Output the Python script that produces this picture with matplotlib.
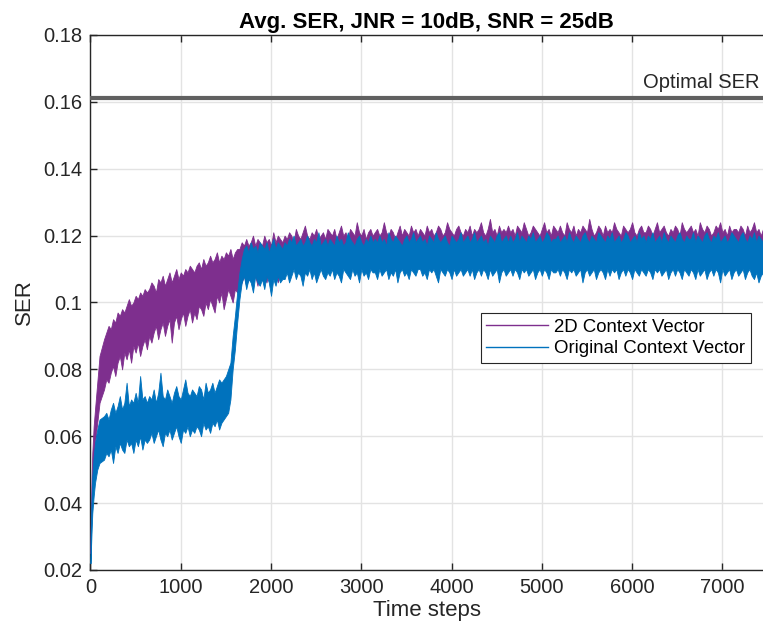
import matplotlib.pyplot as plt
from matplotlib.lines import Line2D
from matplotlib.ticker import FuncFormatter

# Time axis: a few early samples, then every 25 steps
time_steps = [0, 10, 20, 35, 50, 75, 100] + list(range(150, 7451, 25))

# SER traces, in units of 0.001 (low / high edge of the noisy band)
ctx2d_hi = [30, 45, 55, 63, 68, 76, 84,
            89, 91, 93, 92, 95, 94, 97, 96, 98, 97, 99, 101, 99, 100, 102, 101, 103, 102, 104, 103,
            104, 106, 105, 103, 107, 106, 108, 105, 107, 109, 106, 108, 110, 107, 109, 108, 110, 109, 111, 110,
            109, 111, 112, 110, 113, 111, 112, 114, 112, 113, 115, 112, 114, 113, 115, 114, 116, 113, 115, 116,
            116, 118, 117, 119, 117, 118, 120, 117, 119, 118, 117, 120, 118, 119, 117, 121, 118, 120, 119, 118,
            120, 119, 121, 120, 118, 122, 120, 119, 121, 123, 120, 119, 121, 120, 122, 119, 120, 121, 119, 122,
            121, 120, 122, 119, 121, 123, 120, 121, 119, 122, 121, 120, 124, 121, 120, 122, 119, 121, 122, 120,
            121, 122, 120, 121, 124, 121, 120, 122, 121, 119, 121, 123, 120, 122, 121, 120, 123, 121, 122, 120,
            122, 121, 120, 123, 121, 122, 120, 121, 123, 122, 120, 121, 124, 122, 121, 120, 122, 123, 121, 120,
            122, 121, 123, 120, 122, 121, 122, 124, 121, 120, 122, 125, 121, 122, 120, 123, 121, 122, 121, 123,
            121, 122, 120, 123, 122, 121, 124, 122, 120, 121, 123, 122, 121, 120, 122, 124, 121, 122, 120, 123,
            122, 121, 123, 121, 120, 124, 122, 121, 123, 120, 122, 121, 123, 122, 121, 125, 122, 120, 121, 123,
            122, 120, 123, 121, 122, 121, 124, 122, 121, 120, 123, 122, 121, 122, 124, 121, 120, 122, 123, 121,
            121, 123, 122, 120, 122, 124, 121, 122, 123, 121, 120, 122, 121, 123, 122, 120, 124, 122, 121, 122,
            123, 121, 122, 120, 124, 122, 121, 123, 122, 120, 121, 123, 122, 124, 121, 122, 120, 123, 121, 122,
            122, 121, 123, 122, 120, 123, 121, 122, 124, 121, 122, 120, 122]
ctx2d_lo = [25, 36, 44, 52, 58, 64, 70,
            74, 77, 76, 79, 81, 78, 82, 84, 80, 85, 83, 86, 82, 87, 85, 88, 84, 87, 89, 86,
            90, 88, 91, 93, 89, 92, 94, 90, 93, 95, 88, 94, 96, 92, 95, 97, 93, 96, 98, 94,
            97, 95, 99, 98, 96, 100, 98, 101, 99, 97, 102, 100, 103, 98, 101, 104, 102, 100, 104, 103,
            104, 106, 108, 105, 107, 109, 106, 108, 105, 109, 107, 108, 106, 110, 108, 107, 109, 106, 110, 108,
            109, 111, 108, 110, 112, 109, 111, 110, 108, 111, 110, 112, 109, 111, 108, 110, 112, 110, 109, 111,
            110, 112, 109, 111, 110, 108, 112, 111, 110, 109, 112, 110, 111, 108, 112, 110, 111, 109, 112, 111,
            111, 109, 112, 110, 111, 112, 109, 111, 110, 112, 108, 111, 112, 110, 111, 109, 112, 111, 110, 112,
            112, 110, 111, 109, 112, 111, 112, 110, 108, 112, 111, 110, 112, 111, 109, 112, 110, 111, 112, 110,
            111, 112, 110, 112, 109, 111, 112, 110, 112, 111, 109, 112, 110, 111, 112, 108, 111, 112, 110, 111,
            112, 110, 112, 111, 109, 112, 111, 112, 110, 111, 112, 109, 111, 112, 110, 112, 111, 109, 112, 111,
            111, 112, 110, 112, 111, 109, 112, 111, 112, 110, 111, 112, 108, 111, 112, 110, 111, 112, 109, 111,
            112, 111, 109, 112, 110, 112, 111, 112, 109, 111, 112, 110, 112, 111, 109, 112, 111, 110, 112, 111,
            110, 112, 111, 109, 112, 111, 112, 110, 111, 112, 109, 111, 112, 110, 112, 111, 109, 112, 111, 110,
            112, 111, 109, 112, 110, 111, 112, 109, 111, 112, 110, 112, 111, 108, 112, 110, 111, 112, 109, 111,
            112, 110, 111, 112, 109, 111, 112, 110, 109, 111, 108, 110, 111]

orig_hi = [28, 40, 48, 54, 58, 62, 65,
           66, 67, 65, 68, 70, 67, 69, 72, 68, 70, 76, 69, 71, 70, 73, 70, 78, 71, 72, 70,
           72, 71, 74, 70, 73, 79, 72, 71, 74, 72, 70, 73, 75, 72, 71, 74, 77, 73, 72, 74,
           73, 72, 75, 74, 71, 76, 73, 74, 76, 73, 75, 77, 76, 77, 78, 80, 82, 90, 96, 103,
           109, 113, 116, 117, 115, 118, 116, 117, 115, 118, 117, 116, 118, 115, 117, 119, 116, 118, 117, 116,
           118, 117, 119, 118, 120, 117, 118, 119, 117, 118, 120, 118, 117, 119, 118, 121, 117, 118, 119, 117,
           119, 118, 117, 120, 118, 119, 117, 118, 121, 119, 118, 117, 119, 120, 118, 117, 119, 118, 120, 118,
           119, 118, 120, 118, 119, 117, 121, 119, 118, 120, 119, 118, 117, 119, 120, 118, 119, 121, 118, 119,
           120, 118, 119, 117, 120, 119, 118, 121, 119, 118, 119, 120, 118, 117, 120, 119, 118, 119, 121, 118,
           119, 120, 118, 119, 121, 118, 119, 120, 118, 119, 117, 120, 119, 118, 120, 121, 118, 119, 120, 118,
           120, 118, 119, 121, 118, 120, 119, 118, 120, 119, 121, 118, 119, 120, 118, 119, 121, 120, 118, 119,
           119, 120, 118, 119, 120, 118, 121, 119, 118, 120, 119, 118, 120, 121, 119, 118, 120, 119, 118, 121,
           120, 119, 118, 120, 119, 121, 118, 119, 120, 118, 119, 121, 120, 118, 119, 120, 118, 121, 119, 120,
           118, 120, 119, 121, 118, 119, 120, 118, 121, 119, 118, 120, 119, 118, 120, 121, 119, 118, 120, 119,
           119, 121, 118, 120, 119, 118, 120, 121, 119, 118, 120, 119, 121, 118, 119, 120, 118, 119, 121, 120,
           119, 118, 120, 121, 119, 118, 120, 119, 121, 118, 120, 119, 118]
orig_lo = [22, 30, 37, 42, 46, 50, 52,
           53, 55, 54, 56, 52, 57, 55, 58, 56, 55, 59, 57, 58, 55, 59, 57, 60, 56, 59, 58,
           59, 61, 58, 60, 62, 59, 57, 61, 60, 62, 59, 61, 63, 60, 58, 62, 61, 63, 60, 62,
           61, 63, 62, 60, 64, 62, 63, 61, 64, 63, 65, 62, 64, 65, 66, 67, 71, 80, 86, 94,
           101, 106, 108, 104, 107, 106, 103, 108, 106, 105, 107, 104, 108, 106, 102, 107, 105, 108, 106, 107,
           107, 109, 106, 108, 110, 107, 109, 108, 105, 109, 108, 110, 107, 109, 106, 108, 110, 108, 107, 109,
           108, 110, 107, 109, 108, 106, 110, 109, 108, 107, 110, 108, 109, 106, 110, 108, 109, 107, 110, 109,
           109, 107, 110, 108, 109, 110, 107, 109, 108, 110, 106, 109, 110, 108, 109, 107, 110, 109, 108, 110,
           110, 108, 109, 107, 110, 109, 110, 108, 106, 110, 109, 108, 110, 109, 107, 110, 108, 109, 110, 108,
           109, 110, 108, 110, 107, 109, 110, 108, 110, 109, 107, 110, 108, 109, 110, 106, 109, 110, 108, 109,
           110, 108, 110, 109, 107, 110, 109, 110, 108, 109, 110, 107, 109, 110, 108, 110, 109, 107, 110, 109,
           109, 110, 108, 110, 109, 107, 110, 109, 110, 108, 109, 110, 106, 109, 110, 108, 109, 110, 107, 109,
           110, 109, 107, 110, 108, 110, 109, 110, 107, 109, 110, 108, 110, 109, 107, 110, 109, 108, 110, 109,
           108, 110, 109, 107, 110, 109, 110, 108, 109, 110, 107, 109, 110, 108, 110, 109, 107, 110, 109, 108,
           110, 109, 107, 110, 108, 109, 110, 107, 109, 110, 108, 110, 109, 106, 110, 108, 109, 110, 107, 109,
           110, 108, 109, 110, 107, 109, 110, 108, 107, 109, 106, 108, 109]

optimal_ser = 0.1613

labels = ["2D Context Vector", "Original Context Vector"]
purple = "#7E2F8E"
blue = "#0072BD"
ink = "#262626"

plt.rcParams["font.family"] = ["Liberation Sans", "DejaVu Sans"]

fig = plt.figure(figsize=(7.63, 6.37), dpi=100)
ax = fig.add_axes([0.1186, 0.1052, 0.8814, 0.8399])

# Noisy SER traces drawn as bands between low and high edges
ax.fill_between(time_steps, [v / 1000 for v in ctx2d_lo], [v / 1000 for v in ctx2d_hi],
                color=purple, lw=0.6, zorder=3)
ax.fill_between(time_steps, [v / 1000 for v in orig_lo], [v / 1000 for v in orig_hi],
                color=blue, lw=0.6, zorder=4)

# Optimal SER reference
ax.axhline(optimal_ser, color="#606060", lw=3, zorder=5)
ax.text(0.9955, 0.1640, "Optimal SER", transform=ax.get_yaxis_transform(),
        ha="right", va="baseline", fontsize=14.5, color=ink)

ax.set_xlim(0, 7450)
ax.set_ylim(0.02, 0.18)
ax.set_xticks(range(0, 7001, 1000))
ax.set_yticks([0.02, 0.04, 0.06, 0.08, 0.10, 0.12, 0.14, 0.16, 0.18])
ax.yaxis.set_major_formatter(FuncFormatter(lambda v, p: "%g" % round(v, 2)))

ax.grid(True, color="#e3e3e3", lw=1, zorder=0)
ax.set_axisbelow(True)
ax.tick_params(direction="in", length=5, width=1, color=ink, labelcolor=ink,
               labelsize=14.5, pad=6, top=True)
for side in ["left", "bottom", "top"]:
    ax.spines[side].set_color(ink)
    ax.spines[side].set_linewidth(1)
ax.spines["right"].set_visible(False)

ax.set_xlabel("Time steps", fontsize=16, color=ink, labelpad=2)
ax.set_ylabel("SER", fontsize=16, color=ink, labelpad=6)
ax.set_title("Avg. SER, JNR = 10dB, SNR = 25dB", fontsize=16, fontweight="bold",
             color="black", pad=5)

handles = [Line2D([], [], color=purple, lw=1), Line2D([], [], color=blue, lw=1)]
leg = ax.legend(handles, labels, loc="upper right", bbox_to_anchor=(0.982, 0.480),
                fontsize=13.4, fancybox=False, framealpha=1, edgecolor=ink,
                handlelength=3.3, handletextpad=0.35, labelspacing=0.25,
                borderpad=0.3, borderaxespad=0)
leg.get_frame().set_linewidth(0.8)
leg.set_zorder(10)

plt.savefig("out.png", dpi=100)
